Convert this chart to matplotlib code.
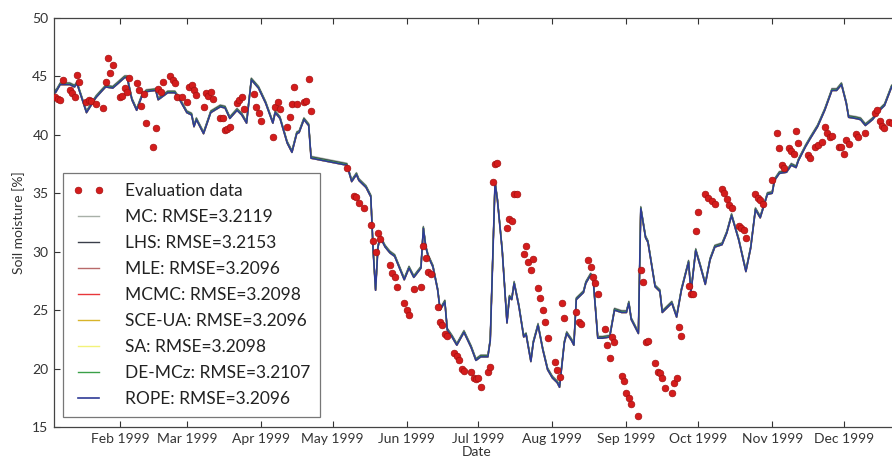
import matplotlib
matplotlib.use("Agg")
import matplotlib.pyplot as plt
import matplotlib.dates as mdates
import pandas as pd

plt.rcParams["font.family"] = ["Lato", "DejaVu Sans"]

# Observed soil moisture (evaluation data)
obs_dates = [
    "01-05", "01-06", "01-07", "01-08", "01-11", "01-12", "01-13", "01-14", "01-15",
    "01-18", "01-19", "01-20", "01-22", "01-25", "01-26", "01-27", "01-28", "01-29",
    "02-01", "02-02", "02-03", "02-04", "02-05", "02-08", "02-09", "02-10", "02-11",
    "02-12", "02-15", "02-16", "02-17", "02-18", "02-19", "02-22", "02-23", "02-24",
    "02-25", "02-27", "03-01", "03-02", "03-03", "03-04", "03-05", "03-08", "03-09",
    "03-10", "03-11", "03-12", "03-15", "03-16", "03-17", "03-18", "03-19", "03-22",
    "03-23", "03-24", "03-25", "03-29", "03-30", "03-31", "04-01", "04-06", "04-07",
    "04-08", "04-09", "04-12", "04-13", "04-14", "04-15", "04-16", "04-19", "04-20",
    "04-21", "04-22",
    "05-07", "05-10", "05-11", "05-12", "05-14", "05-17", "05-18", "05-19", "05-20",
    "05-21", "05-25", "05-26", "05-27", "05-28", "05-31", "06-01", "06-02", "06-04",
    "06-07", "06-08", "06-09", "06-10", "06-11", "06-14", "06-15", "06-16", "06-17",
    "06-18", "06-21", "06-22", "06-23", "06-24", "06-25", "06-28", "06-29", "06-30",
    "07-01", "07-02", "07-05", "07-06", "07-07", "07-08", "07-09", "07-13", "07-14",
    "07-15", "07-16", "07-17", "07-20", "07-21", "07-22", "07-23", "07-24", "07-26",
    "07-27", "07-28", "07-29", "07-30", "08-02", "08-03", "08-04", "08-05", "08-06",
    "08-11", "08-12", "08-13", "08-16", "08-17", "08-18", "08-19", "08-20", "08-23",
    "08-24", "08-25", "08-26", "08-27", "08-30", "08-31", "09-01", "09-02", "09-03",
    "09-06", "09-07", "09-08", "09-09", "09-10", "09-13", "09-14", "09-15", "09-16",
    "09-17", "09-20", "09-21", "09-22", "09-23", "09-24", "09-27", "09-28", "09-29",
    "09-30", "10-01", "10-04", "10-05", "10-07", "10-08", "10-11", "10-12", "10-13",
    "10-14", "10-15", "10-18", "10-19", "10-20", "10-21", "10-25", "10-26", "10-27",
    "10-28", "11-01", "11-03", "11-04", "11-05", "11-06", "11-08", "11-09", "11-10",
    "11-11", "11-12", "11-16", "11-17", "11-19", "11-20", "11-22", "11-23", "11-24",
    "11-25", "11-26", "11-29", "11-30", "12-01", "12-02", "12-03", "12-06", "12-07",
    "12-10", "12-14", "12-15", "12-16", "12-17", "12-18", "12-20", "12-21",
]
obs_values = [
    43.2, 43.1, 43.0, 44.7, 43.8, 43.6, 43.2, 45.1, 44.5,
    42.8, 43.0, 42.9, 42.6, 42.3, 44.5, 46.6, 45.3, 46.0,
    43.2, 43.3, 44.0, 43.7, 44.9, 44.4, 43.8, 42.5, 43.5,
    41.0, 39.0, 40.6, 43.9, 43.7, 44.5, 45.0, 44.7, 44.4,
    43.2, 43.2, 42.8, 44.1, 44.3, 43.8, 43.4, 42.4, 43.6,
    43.3, 43.7, 43.1, 41.4, 41.4, 40.4, 40.5, 40.7, 42.7,
    43.0, 43.2, 42.2, 43.5, 42.4, 41.9, 41.2, 39.8, 42.4,
    42.8, 42.2, 40.7, 41.5, 42.6, 44.1, 42.6, 42.8, 42.9,
    44.8, 42.0,
    37.2, 34.8, 34.7, 34.2, 33.7, 32.3, 30.9, 30.0, 31.6,
    31.1, 28.9, 28.2, 27.8, 27.0, 25.6, 25.0, 24.6, 26.8,
    27.0, 30.5, 29.5, 28.3, 28.1, 25.3, 24.0, 23.7, 23.0,
    22.8, 21.3, 21.1, 20.7, 20.0, 19.8, 19.7, 19.2, 19.1,
    19.2, 18.4, 19.7, 20.1, 36.0, 37.5, 37.6, 32.0, 32.8,
    32.6, 34.9, 34.9, 29.8, 30.5, 29.1, 28.4, 29.4, 26.9,
    26.0, 25.0, 24.0, 22.6, 20.6, 19.9, 19.3, 25.6, 24.3,
    24.8, 24.0, 23.8, 29.3, 28.7, 27.8, 27.3, 26.4, 23.4,
    22.0, 20.9, 22.7, 22.3, 19.4, 18.9, 17.9, 17.5, 17.0,
    15.9, 28.4, 27.4, 22.3, 22.4, 20.5, 19.7, 19.6, 19.2,
    18.3, 17.9, 18.8, 19.2, 23.6, 22.8, 27.1, 26.4, 26.4,
    31.8, 33.4, 34.9, 34.6, 34.3, 34.1, 35.4, 35.0, 34.5,
    34.0, 33.7, 32.2, 32.0, 31.9, 31.2, 34.9, 34.6, 34.4,
    34.1, 36.1, 40.2, 38.9, 37.4, 37.2, 38.9, 38.6, 38.4,
    40.3, 39.3, 38.3, 38.0, 39.0, 39.1, 39.4, 40.7, 40.2,
    39.8, 39.9, 39.0, 39.0, 38.4, 39.6, 39.2, 40.1, 39.8,
    40.2, 41.9, 42.1, 41.2, 40.8, 40.6, 41.1, 41.0,
]

# Simulated soil moisture of the best parameter set (shared shape)
sim_dates = [
    "01-04", "01-05", "01-07", "01-11", "01-13", "01-14", "01-18", "01-22", "01-26",
    "01-29", "02-03", "02-04", "02-06", "02-08", "02-10", "02-12", "02-16", "02-17",
    "02-21", "02-24", "02-26", "03-01", "03-03", "03-04", "03-05", "03-08", "03-11",
    "03-15", "03-17", "03-19", "03-22", "03-24", "03-26", "03-28", "03-31", "04-03",
    "04-06", "04-07", "04-09", "04-12", "04-14", "04-16", "04-17", "04-19", "04-21",
    "04-22", "05-07", "05-09", "05-11", "05-12", "05-15", "05-17", "05-18", "05-19",
    "05-20", "05-21", "05-23", "05-25", "05-27", "05-31", "06-02", "06-04", "06-07",
    "06-08", "06-09", "06-10", "06-12", "06-14", "06-15", "06-17", "06-18", "06-20",
    "06-22", "06-25", "06-28", "06-30", "07-02", "07-05", "07-06", "07-08", "07-09",
    "07-11", "07-13", "07-14", "07-15", "07-16", "07-18", "07-20", "07-21", "07-23",
    "07-24", "07-26", "07-28", "07-30", "08-01", "08-03", "08-04", "08-06", "08-07",
    "08-09", "08-10", "08-11", "08-12", "08-14", "08-15", "08-17", "08-18", "08-20",
    "08-22", "08-25", "08-27", "08-30", "09-01", "09-02", "09-03", "09-06", "09-07",
    "09-09", "09-10", "09-13", "09-15", "09-16", "09-20", "09-22", "09-24", "09-27",
    "09-28", "09-30", "10-02", "10-04", "10-06", "10-08", "10-11", "10-13", "10-15",
    "10-18", "10-21", "10-23", "10-25", "10-27", "10-30", "11-01", "11-02", "11-04",
    "11-07", "11-09", "11-11", "11-12", "11-15", "11-17", "11-20", "11-23", "11-26",
    "11-28", "11-30", "12-02", "12-03", "12-06", "12-08", "12-10", "12-13", "12-16",
    "12-18", "12-21",
]
sim_values = [
    44.1, 43.6, 44.3, 44.3, 44.1, 44.4, 41.9, 43.2, 44.1,
    44.0, 44.9, 44.9, 43.0, 42.1, 43.2, 43.7, 43.8, 43.0,
    43.6, 43.6, 43.0, 41.9, 41.7, 40.7, 41.3, 40.1, 41.9,
    42.4, 42.3, 41.4, 42.1, 41.7, 41.0, 44.7, 44.0, 42.7,
    41.0, 41.9, 41.4, 39.3, 38.5, 40.1, 40.2, 41.3, 40.8,
    38.0, 37.4, 36.0, 36.6, 36.1, 35.5, 34.7, 30.0, 26.7,
    30.4, 31.2, 30.4, 29.9, 29.6, 27.6, 28.6, 27.8, 28.6,
    32.0, 30.4, 29.6, 28.7, 26.7, 25.0, 25.7, 23.3, 22.7,
    22.0, 23.1, 21.8, 20.7, 21.0, 21.0, 22.4, 35.9, 34.4,
    30.1, 23.9, 26.1, 25.9, 27.3, 25.3, 22.7, 22.9, 20.6,
    22.2, 23.7, 21.6, 19.9, 19.2, 18.8, 18.4, 22.2, 23.0,
    22.4, 22.0, 25.9, 26.1, 26.5, 27.3, 28.0, 27.8, 22.6,
    22.6, 22.7, 25.0, 24.8, 24.8, 25.6, 24.2, 23.0, 33.7,
    31.2, 30.8, 27.0, 26.6, 24.8, 25.6, 24.4, 26.7, 29.1,
    26.5, 30.1, 28.7, 27.2, 29.3, 30.4, 30.6, 31.6, 33.1,
    31.0, 28.3, 30.3, 33.6, 32.9, 34.9, 35.0, 36.1, 36.7,
    36.8, 37.4, 37.2, 37.8, 39.0, 39.7, 40.7, 42.1, 43.8,
    43.8, 44.3, 42.7, 41.5, 41.4, 41.3, 40.8, 41.3, 42.1,
    42.5, 44.1,
]

# Calibration algorithms, their RMSE and small departure from the shared run
methods = ["MC", "LHS", "MLE", "MCMC", "SCE-UA", "SA", "DE-MCz", "ROPE"]
rmse = ["3.2119", "3.2153", "3.2096", "3.2098", "3.2096", "3.2098", "3.2107", "3.2096"]
shift = [0.18, 0.12, 0.0, 0.0, 0.0, 0.0, 0.06, 0.0]
colors = ["#a8b0a8", "#3a3f4a", "#b86a6a", "#e8373a", "#d8b42a", "#f2f27a", "#3aa048", "#2f3b96"]
widths = [1.0, 1.0, 1.0, 1.0, 1.0, 1.0, 1.0, 1.2]

obs_t = pd.to_datetime(["1999-" + d for d in obs_dates])
sim_t = pd.to_datetime(["1999-" + d for d in sim_dates])

fig = plt.figure(figsize=(8.92, 4.59), dpi=100)
ax = fig.add_axes([54 / 892, 32 / 459, 846 / 892, 409 / 459])

ax.plot(obs_t, obs_values, linestyle="none", marker="o", ms=4.8,
        color="#d41c1c", markeredgecolor="#a51010", markeredgewidth=0.5,
        label="Evaluation data", zorder=3)
for name, err, dv, c, w in zip(methods, rmse, shift, colors, widths):
    ax.plot(sim_t, [v + dv for v in sim_values], color=c, lw=w,
            label=f"{name}: RMSE={err}", zorder=2)

t0 = pd.Timestamp("1999-01-01")
ax.set_xlim(t0 + pd.Timedelta(days=3.4), t0 + pd.Timedelta(days=357.5))
ax.set_ylim(15, 50)
ax.set_yticks(range(15, 51, 5))
ax.xaxis.set_major_locator(mdates.MonthLocator())
ax.xaxis.set_major_formatter(mdates.DateFormatter("%b %Y"))

ax.tick_params(direction="in", length=4, width=0.8, top=True, right=True,
               labelsize=10, colors="#333333", pad=4)
for s in ax.spines.values():
    s.set_color("#444444")
    s.set_linewidth(0.9)

ax.set_xlabel("Date", fontsize=10, color="#333333", labelpad=1)
ax.set_ylabel("Soil moisture [%]", fontsize=10, color="#333333", labelpad=5)

leg = ax.legend(loc="lower left", bbox_to_anchor=(9 / 846, 10 / 409),
                borderaxespad=0, fancybox=False, numpoints=2, fontsize=12.5,
                handlelength=1.8, handletextpad=1.2, labelspacing=0.58,
                borderpad=0.55, frameon=True)
leg.get_frame().set_edgecolor("#555555")
leg.get_frame().set_linewidth(0.9)
for t in leg.get_texts():
    t.set_color("#222222")

fig.savefig("out.png", dpi=100)
